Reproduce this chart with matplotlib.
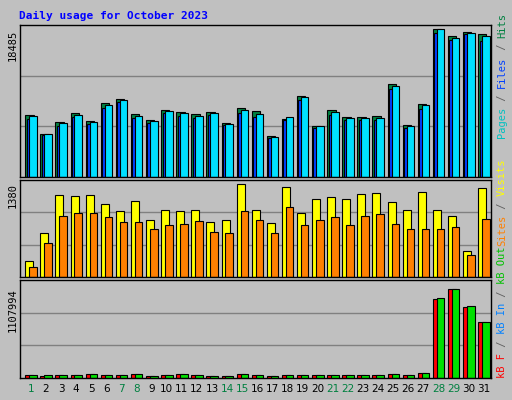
import matplotlib
matplotlib.use("Agg")
import matplotlib.pyplot as plt
import numpy as np

days = list(range(1, 32))
weekend = [1, 7, 8, 14, 15, 21, 22, 28, 29]
hits = [7490, 5170, 6640, 7740, 6760, 8960, 9450, 7620, 6880, 8100, 7860, 7620, 7860, 6520, 8350, 7980, 4930, 7000, 9820, 6150, 8100, 7250, 7250, 7370, 11280, 6270, 8840, 18000, 17150, 17640, 17430]
files = [7370, 5170, 6520, 7490, 6640, 8720, 9330, 7370, 6760, 7980, 7740, 7370, 7740, 6390, 8100, 7620, 4810, 7250, 9700, 6150, 7860, 7130, 7130, 7130, 11030, 6150, 8720, 18000, 16900, 17520, 17150]
pages = [7010, 5050, 6150, 7250, 6390, 8350, 9080, 7130, 6520, 7740, 7370, 7130, 7490, 6270, 7740, 7250, 4690, 6880, 9330, 5900, 7490, 6880, 6880, 6880, 10660, 5900, 8230, 17520, 16650, 17400, 16530]
visits = [233, 619, 1161, 1147, 1161, 1033, 933, 1076, 814, 957, 933, 947, 776, 814, 1318, 957, 766, 1276, 909, 1104, 1133, 1104, 1176, 1190, 1062, 957, 1204, 957, 861, 376, 1261]
sites = [147, 490, 871, 914, 914, 847, 776, 776, 676, 733, 747, 790, 647, 633, 933, 805, 633, 1000, 733, 805, 847, 733, 862, 890, 761, 676, 690, 690, 705, 319, 819]
small_out = [577, 579, 577, 577, 574, 577, 577, 574, 580, 577, 574, 577, 580, 580, 574, 577, 580, 577, 577, 577, 577, 577, 577, 577, 574, 577, 571]
kb_out = [(587 - y) * 3887.7 for y in small_out] + [960000, 1063000, 866000, 668000]
kb_f = [v * 0.9 for v in kb_out[:27]] + [948000, 1063000, 855000, 668000]
ymax = [18485, 1380, 1107994]

BG = "#C0C0C0"
fig = plt.figure(figsize=(5.12, 4.0), dpi=100, facecolor=BG)
W, H = 512, 400
def ax_at(x0, y0, x1, y1):
    a = fig.add_axes([x0 / W, 1 - y1 / H, (x1 - x0) / W, (y1 - y0) / H])
    a.set_facecolor(BG)
    a.set_xlim(0, 31.2)
    a.set_xticks([]); a.set_yticks([])
    for s in a.spines.values():
        s.set_color("black"); s.set_linewidth(1)
    return a

x = np.arange(31)
ek = dict(edgecolor="black", linewidth=0.8)
a1 = ax_at(20, 25, 491, 177)
a1.set_ylim(0, ymax[0] * 1.0)
for g in (1/3, 2/3):
    a1.axhline(ymax[0] * g, color="#808080", lw=1, zorder=0)
a1.bar(x + 0.35, hits, width=0.55, align="edge", color="#008040", **ek)
a1.bar(x + 0.44, pages, width=0.5, align="edge", color="#0040FF", **ek)
a1.bar(x + 0.61, files, width=0.5, align="edge", color="#00E0FF", **ek)

a2 = ax_at(20, 180, 491, 277)
a2.set_ylim(0, ymax[1])
for g in (1/3, 2/3):
    a2.axhline(ymax[1] * g, color="#808080", lw=1, zorder=0)
a2.bar(x + 0.35, visits, width=0.53, align="edge", color="#FFFF00", **ek)
a2.bar(x + 0.61, sites, width=0.5, align="edge", color="#FF8000", **ek)

a3 = ax_at(20, 280, 491, 378)
a3.set_ylim(0, ymax[2] * 1.06)
for g in (1/3, 2/3):
    a3.axhline(ymax[2] * 1.06 * g, color="#808080", lw=1, zorder=0)
a3.bar(x + 0.35, kb_f, width=0.53, align="edge", color="#FF0000", **ek)
a3.bar(x + 0.61, kb_out, width=0.5, align="edge", color="#00E000", **ek)

mono = "DejaVu Sans Mono"
fig.text(19 / W, 1 - 16 / H, "Daily usage for October 2023", color="#0000FF",
         fontsize=8, fontweight="bold", family=mono, va="center")
for lbl, yc in (("18485", 45), ("1380", 195), ("1107994", 310)):
    fig.text(13 / W, 1 - yc / H, lbl, rotation=90, fontsize=7.5, family=mono,
             ha="center", va="center")
for d in days:
    fig.text((20 + (d - 1 + 0.72) * 471 / 31.2) / W, 1 - 389 / H, str(d),
             color="#008040" if d in weekend else "black", fontsize=7.5,
             ha="center", va="center")

fs = 7.5
cw = 0.602 * fs * 100 / 72
def vlabel(parts, ybottom):
    y = ybottom
    for t, c in parts:
        fig.text(502 / W, 1 - y / H, t, rotation=90, color=c, fontsize=fs,
                 family=mono, ha="center", va="bottom")
        y -= len(t) * cw
vlabel([("Pages", "#00C0C0"), (" / ", "#606060"), ("Files", "#0040FF"),
        (" / ", "#606060"), ("Hits", "#008040")], 138)
vlabel([("Sites", "#FF8000"), (" / ", "#606060"), ("Visits", "#FFFF00")], 246)
vlabel([("kB F", "#FF0000"), (" / ", "#606060"), ("kB In", "#0080FF"),
        (" / ", "#606060"), ("kB Out", "#00C000")], 378)

fig.savefig("out.png", dpi=100, facecolor=BG)
